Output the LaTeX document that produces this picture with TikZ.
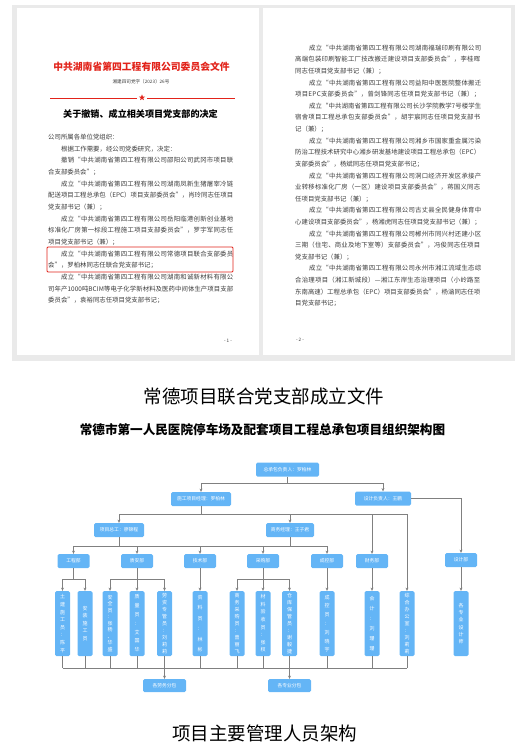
\documentclass[tikz,border=0pt]{standalone}
\usepackage{fontspec}
\setmainfont{Noto Sans CJK SC}
\usetikzlibrary{arrows.meta,shapes.geometric}
\definecolor{docred}{HTML}{E2231A}
\definecolor{bluebox}{HTML}{64B5F6}
\definecolor{linegray}{HTML}{808080}
\definecolor{bodytext}{HTML}{3C3C3C}
\definecolor{pagebg}{HTML}{EAEAEA}
\makeatletter
\def\spr@ad#1#2{#1\ifx\relax#2\else\hskip0pt plus 1fil\relax\expandafter\spr@ad\expandafter#2\fi}
\newcommand\jlf[1]{\makebox[185pt][s]{\spr@ad#1\relax}}
\newcommand\jli[1]{\makebox[172pt][s]{\spr@ad#1\relax}}
\makeatother
\tikzset{
 body/.style={anchor=west, inner sep=0pt, font=\fontsize{6.4}{7}\selectfont, text=bodytext},
 hb/.style={fill=bluebox, rounded corners=1.5pt, text=white, font=\fontsize{4.8}{5}\selectfont, inner sep=0pt, minimum height=14pt},
 vb/.style={fill=bluebox, rounded corners=1.5pt, text=white, inner sep=0pt, minimum width=15pt, minimum height=65pt, align=center, font=\fontsize{5}{#1}\selectfont},
 ln/.style={draw=linegray, line width=0.9pt},
 arr/.style={draw=linegray, line width=0.9pt, -{Stealth[length=3.2pt,width=3pt]}},
}
\begin{document}
\begin{tikzpicture}[x=1pt,y=-1pt]
\useasboundingbox (0,0) rectangle (525,748);
% ---------- document pages ----------
\fill[pagebg] (12,5) rectangle (515,361);
\fill[white] (17,8) rectangle (259,355);
\fill[white] (263,8) rectangle (511,355);
% left page header
\node[font=\fontsize{9.8}{10}\selectfont\bfseries, text=docred] (rt) at (141.5,67) {中共湖南省第四工程有限公司委员会文件};
\node[font=\fontsize{4.6}{5}\selectfont, text=bodytext] (dn) at (141,82) {湘建四司党字〔2023〕26号};
\node[star, star points=5, star point ratio=2.4, fill=docred, minimum size=6.5pt, inner sep=0pt] (st) at (142,97.6) {};
\draw[docred, line width=0.8pt] (50,98) -- (137,98);
\draw[docred, line width=0.8pt] (147,98) -- (235,98);
\node[font=\fontsize{9.1}{10}\selectfont\bfseries, text=black] (dt) at (140.5,114) {关于撤销、成立相关项目党支部的决定};
% left page body
\node[body] (l01) at (48,137) {公司所属各单位党组织：};
\node[body] (l02) at (61,148.7) {根据工作需要，经公司党委研究，决定：};
\node[body] (l03) at (61,160.4) {\jli{撤销“中共湖南省第四工程有限公司邵阳公司武冈市项目联}};
\node[body] (l04) at (48,172.1) {合支部委员会”；};
\node[body] (l05) at (61,183.8) {\jli{成立“中共湖南省第四工程有限公司湖南凤新生猪屠宰冷链}};
\node[body] (l06) at (48,195.5) {\jlf{配送项目工程总承包（EPC）项目支部委员会”，肖玲同志任项目}};
\node[body] (l07) at (48,207.2) {党支部书记（兼）；};
\node[body] (l08) at (61,218.9) {\jli{成立“中共湖南省第四工程有限公司岳阳临港创新创业基地}};
\node[body] (l09) at (48,230.6) {\jlf{标准化厂房第一标段工程施工项目支部委员会”，罗宇军同志任}};
\node[body] (l10) at (48,242.3) {项目党支部书记（兼）；};
\node[body] (l11) at (61,254) {\jli{成立“中共湖南省第四工程有限公司常德项目联合支部委员}};
\node[body] (l12) at (48,265.7) {会”，罗柏林同志任联合党支部书记；};
\node[body] (l13) at (61,277.4) {\jli{成立“中共湖南省第四工程有限公司湖南和诚新材料有限公}};
\node[body] (l14) at (48,289.1) {\jlf{司年产1000吨BCIM等电子化学新材料及医药中间体生产项目支部}};
\node[body] (l15) at (48,300.8) {委员会”，袁裕同志任项目党支部书记；};
\draw[docred, line width=0.8pt, rounded corners=1pt] (47,247) rectangle (233,272);
\node[font=\fontsize{4.6}{5}\selectfont, text=bodytext] (pn1) at (228,341) {- 1 -};
% right page body
\node[body] (r01) at (309,48) {\jli{成立“中共湖南省第四工程有限公司湖南福瑞印刷有限公司}};
\node[body] (r02) at (295,59.6) {\jlf{高端包装印刷智能工厂技改搬迁建设项目支部委员会”，李桂晖}};
\node[body] (r03) at (295,71.2) {同志任项目党支部书记（兼）；};
\node[body] (r04) at (309,82.8) {\jli{成立“中共湖南省第四工程有限公司益阳中医医院整体搬迁}};
\node[body] (r05) at (295,94.4) {\jlf{项目EPC支部委员会”，曾剑锋同志任项目党支部书记（兼）；}};
\node[body] (r06) at (309,106) {\jli{成立“中共湖南省第四工程有限公司长沙学院教学7号楼学生}};
\node[body] (r07) at (295,117.6) {\jlf{宿舍项目工程总承包支部委员会”，胡宇宸同志任项目党支部书}};
\node[body] (r08) at (295,129.2) {记（兼）；};
\node[body] (r09) at (309,140.8) {\jli{成立“中共湖南省第四工程有限公司湘乡市国家重金属污染}};
\node[body] (r10) at (295,152.4) {\jlf{防治工程技术研究中心湘乡研发基地建设项目工程总承包（EPC）}};
\node[body] (r11) at (295,164) {支部委员会”，杨斌同志任项目党支部书记；};
\node[body] (r12) at (309,175.6) {\jli{成立“中共湖南省第四工程有限公司洞口经济开发区承接产}};
\node[body] (r13) at (295,187.2) {\jlf{业转移标准化厂房（一区）建设项目支部委员会”，蒋国义同志}};
\node[body] (r14) at (295,198.8) {任项目党支部书记（兼）；};
\node[body] (r15) at (309,210.4) {\jli{成立“中共湖南省第四工程有限公司古丈县全民健身体育中}};
\node[body] (r16) at (295,222) {\jlf{心建设项目支部委员会”，杨湘虎同志任项目党支部书记（兼）；}};
\node[body] (r17) at (309,233.6) {\jli{成立“中共湖南省第四工程有限公司郴州市同兴村还建小区}};
\node[body] (r18) at (295,245.2) {\jlf{三期（住宅、商业及地下室等）支部委员会”，冯俊同志任项目}};
\node[body] (r19) at (295,256.8) {党支部书记（兼）；};
\node[body] (r20) at (309,268.4) {\jli{成立“中共湖南省第四工程有限公司永州市湘江流域生态综}};
\node[body] (r21) at (295,280) {\jlf{合治理项目（湘江新城段）—湘江东岸生态治理项目（小岭路至}};
\node[body] (r22) at (295,291.6) {\jlf{东南高速）工程总承包（EPC）项目支部委员会”，杨涵同志任项}};
\node[body] (r23) at (295,303.2) {目党支部书记；};
\node[font=\fontsize{4.6}{5}\selectfont, text=bodytext] (pn2) at (300,340) {- 2 -};
% ---------- captions ----------
\node[font=\fontsize{18.5}{20}\selectfont] (cap1) at (264,396) {常德项目联合党支部成立文件};
\node[font=\fontsize{12.6}{14}\selectfont\bfseries] (sub) at (262.5,430) {常德市第一人民医院停车场及配套项目工程总承包项目组织架构图};
\node[font=\fontsize{18.5}{20}\selectfont] (cap2) at (264.5,733) {项目主要管理人员架构};
% ---------- org chart ----------
\node[hb, minimum width=63pt] (top) at (287.5,469.5) {总承包负责人：罗柏林};
\node[hb, minimum width=60pt] (pm) at (201,499) {施工项目经理：罗柏林};
\node[hb, minimum width=56pt] (dl) at (383,498.5) {设计负责人：王鹏};
\node[hb, minimum width=50pt] (ce) at (119,530) {项目总工：廖锦程};
\node[hb, minimum width=48pt] (bm) at (290,530) {商务经理：王子君};
\node[hb, minimum width=32pt] (gcb) at (73.5,561) {工程部};
\node[hb, minimum width=32pt] (zab) at (137,561) {质安部};
\node[hb, minimum width=32pt] (jsb) at (200,561) {技术部};
\node[hb, minimum width=32pt] (cgb) at (263,561) {采购部};
\node[hb, minimum width=32pt] (ckb) at (327,561) {成控部};
\node[hb, minimum width=32pt] (cwb) at (372,561) {财务部};
\node[hb, minimum width=32pt] (sjb) at (461,560) {设计部};
\node[vb=7.6] (v1) at (62.5,623.5) {土\\建\\施\\工\\员\\：\\陈\\平};
\node[vb=7.5] (v2) at (85,623.5) {安\\装\\施\\工\\员};
\node[vb=6.5] (v3) at (110,623.5) {安\\全\\员\\：\\张\\杨\\、\\华\\盛};
\node[vb=8.8] (v4) at (137,623.5) {质\\量\\员\\：\\艾\\国\\华};
\node[vb=7] (v5) at (164.5,623.5) {劳\\资\\专\\管\\员\\：\\刘\\莉\\莉};
\node[vb=10.5] (v6) at (200,623.5) {资\\料\\员\\：\\林\\彬};
\node[vb=7] (v7) at (237,623.5) {商\\务\\采\\购\\员\\：\\曾\\丽\\飞};
\node[vb=7.6] (v8) at (263,623.5) {材\\料\\验\\收\\员\\：\\张\\权};
\node[vb=7] (v9) at (289.5,623.5) {仓\\库\\保\\管\\员\\：\\谢\\毅\\捷};
\node[vb=8.8] (v10) at (327,623.5) {成\\控\\员\\：\\刘\\晓\\宇};
\node[vb=10] (v11) at (372,623.5) {会\\计\\：\\刘\\珊\\珊};
\node[vb=7] (v12) at (407,623.5) {综\\合\\办\\公\\室\\：\\刘\\莉\\莉};
\node[vb=7.3] (v13) at (461,623.5) {各\\专\\业\\设\\计\\师};
\node[hb, minimum width=43pt, minimum height=13pt] (lw) at (164.5,685.5) {各劳务分包};
\node[hb, minimum width=43pt, minimum height=13pt] (zy) at (289.5,685.5) {各专业分包};
\coordinate (busA) at (0,483);
\coordinate (busB) at (0,514);
\coordinate (busC) at (0,546);
\coordinate (busD) at (0,579);
\coordinate (busE) at (0,668);
% level 1
\draw[ln] (top.south) -- (top.south |- busA);
\draw[ln] (pm.north |- busA) -- (dl.north |- busA);
\draw[arr] (pm.north |- busA) -- (pm.north);
\draw[arr] (dl.north |- busA) -- (dl.north);
\draw[arr] (dl.east) -| (sjb.north);
% level 2
\draw[ln] (pm.south) -- (pm.south |- busB);
\draw[ln] (ce.north |- busB) -- (v12.north |- busB);
\draw[arr] (ce.north |- busB) -- (ce.north);
\draw[arr] (bm.north |- busB) -- (bm.north);
\draw[arr] (cwb.north |- busB) -- (cwb.north);
\draw[arr] (v12.north |- busB) -- (v12.north);
% level 3
\draw[ln] (ce.south) -- (ce.south |- busC);
\draw[ln] (bm.south) -- (bm.south |- busC);
\draw[ln] (gcb.north |- busC) -- (ckb.north |- busC);
\foreach \d in {gcb,zab,jsb,cgb,ckb} \draw[arr] (\d.north |- busC) -- (\d.north);
% level 4
\draw[ln] (gcb.south) -- (gcb.south |- busD);
\draw[ln] (v1.north |- busD) -- (v2.north |- busD);
\draw[ln] (zab.south) -- (zab.south |- busD);
\draw[ln] (v3.north |- busD) -- (v5.north |- busD);
\draw[ln] (cgb.south) -- (cgb.south |- busD);
\draw[ln] (v7.north |- busD) -- (v9.north |- busD);
\foreach \v in {v1,v2,v3,v4,v5,v7,v8,v9} \draw[arr] (\v.north |- busD) -- (\v.north);
\draw[arr] (jsb.south) -- (v6.north);
\draw[arr] (ckb.south) -- (v10.north);
\draw[arr] (cwb.south) -- (v11.north);
\draw[arr] (sjb.south) -- (v13.north);
% bottom
\foreach \v in {v1,v2,v3,v4,v5,v6,v7,v8,v9,v10,v11,v12} \draw[ln] (\v.south) -- (\v.south |- busE);
\draw[ln] (v1.south |- busE) -- (v12.south |- busE);
\draw[arr] (v5.south |- busE) -- (lw.north);
\draw[arr] (v9.south |- busE) -- (zy.north);
\end{tikzpicture}
\end{document}
